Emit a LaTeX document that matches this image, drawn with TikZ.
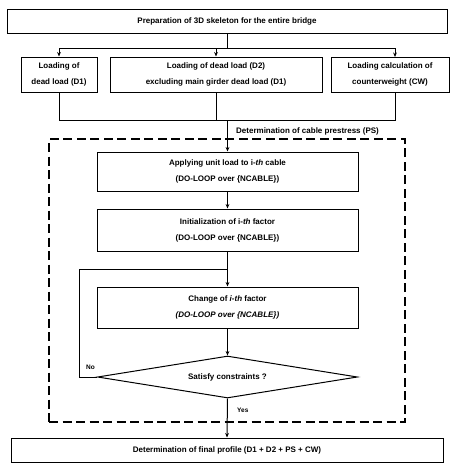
\documentclass[tikz,border=0pt]{standalone}
\usepackage{fontspec}
\setmainfont{Liberation Sans}
\usetikzlibrary{shapes.geometric,arrows.meta}
\begin{document}
\begin{tikzpicture}[x=1pt,y=-1pt,
  every node/.style={font=\fontsize{8}{16}\selectfont\bfseries},
  box/.style={draw,line width=1pt,inner sep=0pt,align=center},
  conn/.style={line width=1pt},
  arr/.style={line width=1pt,-{Stealth[length=4.5pt,width=3.8pt]}},
  lbl/.style={inner sep=0pt}]
\useasboundingbox (0,0) rectangle (457,463);
\fill[white] (0,0) rectangle (457,463);
% boxes
\node[box,minimum width=440,minimum height=24] (top) at (227,21) {Preparation of 3D skeleton for the entire bridge};
\node[box,minimum width=76,minimum height=35] (L) at (59,74.5) {Loading of\\dead load (D1)};
\node[box,minimum width=212,minimum height=35] (M) at (216,74.5) {Loading of dead load (D2)\\excluding main girder dead load (D1)};
\node[box,minimum width=118,minimum height=35] (R) at (390,74.5) {Loading calculation of\\counterweight (CW)};
\node[draw,line width=1.2pt,dash pattern=on 9pt off 4.5pt,minimum width=356,minimum height=283,inner sep=0pt] (ps) at (227,280.5) {};
\node[lbl,anchor=west] (pslbl) at (236,131) {Determination of cable prestress (PS)};
\node[box,minimum width=261,minimum height=39] (A) at (227.5,171.5) {Applying unit load to i-\textit{th} cable\\(DO-LOOP over \{NCABLE\})};
\node[box,minimum width=261,minimum height=42] (I) at (227.5,230) {Initialization of i-\textit{th} factor\\(DO-LOOP over \{NCABLE\})};
\node[box,minimum width=261,minimum height=41] (C) at (227.5,307.5) {Change of \textit{i-th} factor\\\textit{(DO-LOOP over \{NCABLE\})}};
\node[box,diamond,aspect=6.2,minimum width=260,minimum height=42] (D) at (227.5,377) {Satisfy constraints ?};
\node[box,minimum width=432,minimum height=24] (F) at (227,450) {Determination of final profile (D1 + D2 + PS + CW)};
\node[lbl,font=\fontsize{6.5}{8}\selectfont\bfseries,anchor=west] (no) at (86,367) {No};
\node[lbl,font=\fontsize{6.5}{8}\selectfont\bfseries,anchor=west] (yes) at (237,410) {Yes};
% coordinates
\coordinate (b0) at (227,48);
\coordinate (rt) at (395,57);
\coordinate (rb) at (395,92);
\coordinate (c) at (227.5,120);
\coordinate (j) at (227.5,269);
\coordinate (lp) at (79,377);
% connectors
\draw[conn] (top.south) -- (b0);
\draw[conn] (L.north |- b0) -- (rt |- b0);
\draw[arr] (L.north |- b0) -- (L.north);
\draw[arr] (M.north |- b0) -- (M.north);
\draw[arr] (rt |- b0) -- (rt);
\draw[conn] (L.south) -- (L.south |- c) -- (rb |- c) -- (rb);
\draw[conn] (M.south) -- (M.south |- c);
\draw[arr] (c) -- (A.north);
\draw[arr] (A.south) -- (I.north);
\draw[arr] (I.south) -- (C.north);
\draw[arr] (C.south) -- (D.north);
\draw[conn] (D.west) -- (lp) -- (lp |- j) -- (j);
\draw[arr] (D.south) -- (F.north);
\end{tikzpicture}
\end{document}
